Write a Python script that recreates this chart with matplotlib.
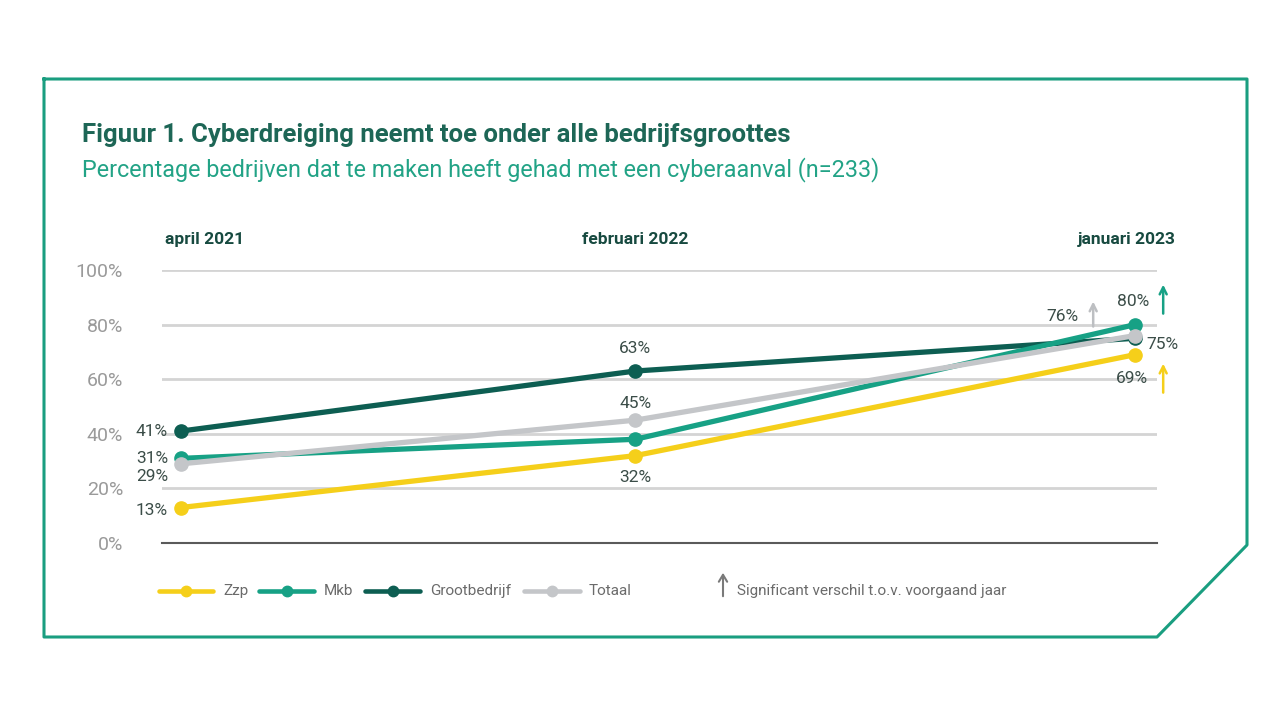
import matplotlib
matplotlib.use("Agg")
import matplotlib.pyplot as plt
from matplotlib.lines import Line2D
from matplotlib.patches import FancyArrowPatch
from matplotlib.transforms import offset_copy

plt.rcParams['font.family'] = ['Roboto', 'DejaVu Sans']

# months since april 2021
months = [0, 10, 21]
period_labels = ['april 2021', 'februari 2022', 'januari 2023']

zzp = [13, 32, 69]
mkb = [31, 38, 80]
groot = [41, 63, 75]
totaal = [29, 45, 76]

series_names = ['Zzp', 'Mkb', 'Grootbedrijf', 'Totaal']
colors = {'Zzp': '#f5cf1a', 'Mkb': '#17a185', 'Grootbedrijf': '#0d5e52', 'Totaal': '#c4c6c9'}

yticks = [0, 20, 40, 60, 80, 100]

dark_green = '#1d6656'
label_col = '#3b4d48'

fig = plt.figure(figsize=(12.8, 7.2), dpi=100)
W, H = 1280, 720

# frame
px = [44, 1247, 1247, 1157, 44, 44]
py = [79, 79, 545, 637, 637, 79]
fig.add_artist(Line2D([x / W for x in px], [1 - y / H for y in py],
                      transform=fig.transFigure, color='#1a9e80', lw=2.2))

fig.text(82 / W, 1 - 135 / H, 'Figuur 1. Cyberdreiging neemt toe onder alle bedrijfsgroottes',
         fontsize=18.5, fontweight='bold', color=dark_green, va='center')
fig.text(82 / W, 1 - 170 / H, 'Percentage bedrijven dat te maken heeft gehad met een cyberaanval (n=233)',
         fontsize=16.8, color='#22a386', va='center')

ax = fig.add_axes([162 / W, 1 - 543 / H, 995 / W, 273 / H])
ax.set_xlim(-0.42, 21.48)
ax.set_ylim(0, 100)
for s in ax.spines.values():
    s.set_visible(False)
ax.set_xticks([])
ax.set_yticks(yticks)
ax.set_yticklabels([f'{v}%' for v in yticks], fontsize=14, color='#9a9a9a')
ax.tick_params(axis='y', length=0, pad=28)
for v in yticks[1:]:
    ax.axhline(v, color='#d4d4d4', lw=2, zorder=0)
ax.axhline(0, color='#5a5a5a', lw=1.5, zorder=0, clip_on=False)

data = {'Zzp': zzp, 'Mkb': mkb, 'Grootbedrijf': groot, 'Totaal': totaal}
order = ['Zzp', 'Grootbedrijf', 'Mkb', 'Totaal']
for i, name in enumerate(order):
    ax.plot(months, data[name], color=colors[name], lw=3.8, marker='o', ms=9.5,
            clip_on=False, zorder=3 + i, solid_capstyle='round')


def lab(x, y, txt, dx, dy, ha='center'):
    ax.annotate(txt, (x, y), xytext=(dx, dy), textcoords='offset pixels',
                ha=ha, va='center', fontsize=12.5, color=label_col)


# left labels
lab(months[0], groot[0], f'{groot[0]}%', -13, 0, 'right')
lab(months[0], mkb[0], f'{mkb[0]}%', -13, 0, 'right')
lab(months[0], totaal[0], f'{totaal[0]}%', -13, -13, 'right')
lab(months[0], zzp[0], f'{zzp[0]}%', -13, -3, 'right')
# middle labels
lab(months[1], groot[1], f'{groot[1]}%', 0, 23)
lab(months[1], totaal[1], f'{totaal[1]}%', 0, 17)
lab(months[1], zzp[1], f'{zzp[1]}%', 0, -22)
# right labels
lab(months[2], mkb[2], f'{mkb[2]}%', -2, 23)
lab(months[2], totaal[2], f'{totaal[2]}%', -73, 19)
lab(months[2], groot[2], f'{groot[2]}%', 11, -6, 'left')
lab(months[2], zzp[2], f'{zzp[2]}%', -3, -24)


def up_arrow(x, y, dx, y0, y1, color):
    tr_head = offset_copy(ax.transData, fig=fig, x=dx, y=y1, units='dots')
    tr_tail = offset_copy(ax.transData, fig=fig, x=dx, y=y0, units='dots')
    ax.annotate('', xy=(x, y), xycoords=tr_head, xytext=(x, y), textcoords=tr_tail,
                annotation_clip=False,
                arrowprops=dict(arrowstyle='->,head_length=0.5,head_width=0.25',
                                color=color, lw=1.8, shrinkA=0, shrinkB=0))


up_arrow(months[2], mkb[2], 28, 11, 40, colors['Mkb'])
up_arrow(months[2], totaal[2], -42, 9, 34, '#bdbfc2')
up_arrow(months[2], zzp[2], 28, -38, -9, colors['Zzp'])

# period headers
hdr_dx = [-16, 0, 40]
hdr_ha = ['left', 'center', 'right']
for m, t, dx, ha in zip(months, period_labels, hdr_dx, hdr_ha):
    ax.annotate(t, (m, 1.11), xycoords=('data', 'axes fraction'), xytext=(dx, 0),
                textcoords='offset pixels', ha=ha, va='center', fontsize=12.5,
                fontweight='bold', color='#174a40', annotation_clip=False)

# legend, drawn by hand to match the spacing
leg_y = 1 - 591 / H
leg_line_x = [(159, 213), (259, 314), (365, 420), (524, 580)]
leg_text_x = [223, 324, 430, 589]
for name, (x0, x1), tx in zip(series_names, leg_line_x, leg_text_x):
    fig.add_artist(Line2D([x0 / W, x1 / W], [leg_y, leg_y], transform=fig.transFigure,
                          color=colors[name], lw=3.3, solid_capstyle='round'))
    fig.add_artist(Line2D([(x0 + x1) / 2 / W], [leg_y], transform=fig.transFigure,
                          color=colors[name], marker='o', ms=7.5))
    fig.text(tx / W, leg_y, name, fontsize=11, color='#6b6b6b', va='center')

fig.add_artist(FancyArrowPatch(
    (723 / W, 1 - 599 / H), (723 / W, 1 - 570 / H), transform=fig.transFigure,
    arrowstyle='->,head_length=5,head_width=3', color='#7a7a7a', lw=1.5))
fig.text(737 / W, leg_y, 'Significant verschil t.o.v. voorgaand jaar',
         fontsize=11, color='#6b6b6b', va='center')

fig.savefig('out.png', dpi=100)
